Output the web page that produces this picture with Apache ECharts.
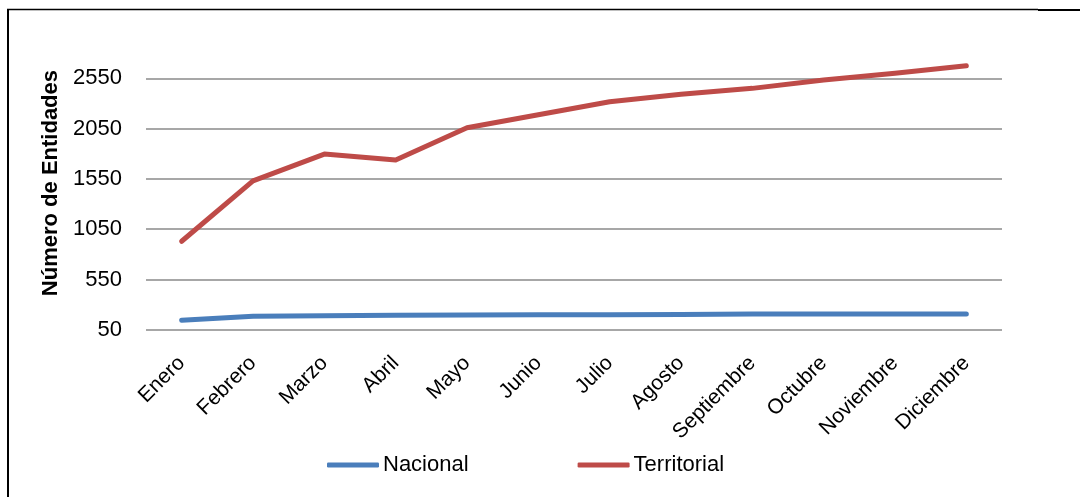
<!DOCTYPE html>
<html>
<head>
<meta charset="utf-8">
<script src="https://cdn.jsdelivr.net/npm/echarts@6/dist/echarts.min.js"></script>
<style>
html,body{margin:0;padding:0;background:#fff;}
#chart{width:1080px;height:497px;}
</style>
</head>
<body>
<div id="chart"></div>
<script>
var categories = ["Enero","Febrero","Marzo","Abril","Mayo","Junio","Julio","Agosto","Septiembre","Octubre","Noviembre","Diciembre"];
var nacional = [145, 185, 190, 195, 198, 199, 200, 203, 206, 207, 207, 207];
var territorial = [930, 1530, 1797, 1738, 2059, 2188, 2317, 2391, 2450, 2533, 2600, 2675];
var yTicks = [50, 550, 1050, 1550, 2050, 2550];

var FONT = "Liberation Sans";
var chart = echarts.init(document.getElementById('chart'), null, {renderer:'canvas'});
chart.setOption({
  animation:false,
  backgroundColor:'#ffffff',
  grid:{left:146, right:78, top:78.3, bottom:167.2, containLabel:false},
  legend:{
    data:['Nacional','Territorial'],
    left:327, top:454, padding:0,
    itemWidth:52, itemHeight:5, itemGap:109,
    icon:'roundRect',
    textStyle:{fontFamily:FONT, fontSize:22, color:'#000', padding:[0,0,0,-1]}
  },
  xAxis:{
    type:'category',
    data:categories,
    boundaryGap:true,
    axisLine:{show:false},
    axisTick:{show:false},
    axisLabel:{rotate:45, margin:30, fontFamily:FONT, fontSize:21, color:'#000', interval:0}
  },
  yAxis:{
    type:'value',
    min:yTicks[0], max:yTicks[yTicks.length-1], interval:500,
    name:'Número de Entidades',
    nameLocation:'middle',
    nameGap:65,
    nameTextStyle:{fontFamily:FONT, fontSize:22, fontWeight:'bold', color:'#000', padding:[0,0,0,42]},
    axisLine:{show:false},
    axisTick:{show:false},
    axisLabel:{margin:24, fontFamily:FONT, fontSize:22, color:'#000', formatter:function(v){return String(v);}},
    splitLine:{show:true, lineStyle:{color:'#8a8a8a', width:1.5}}
  },
  series:[
    {name:'Nacional', type:'line', data:nacional, clip:false, symbol:'none',
     lineStyle:{color:'#4A7EBB', width:5, cap:'round', join:'round'}, itemStyle:{color:'#4A7EBB'}},
    {name:'Territorial', type:'line', data:territorial, clip:false, symbol:'none',
     lineStyle:{color:'#BE4B48', width:5, cap:'round', join:'round'}, itemStyle:{color:'#BE4B48'}}
  ],
  graphic:[
    {type:'line', shape:{x1:8, y1:9.5, x2:8, y2:497}, style:{stroke:'#000', lineWidth:2}},
    {type:'line', shape:{x1:7, y1:9.5, x2:1038, y2:9.5}, style:{stroke:'#000', lineWidth:1.5}},
    {type:'line', shape:{x1:1038, y1:10, x2:1080, y2:10}, style:{stroke:'#000', lineWidth:2}}
  ]
});
</script>
</body>
</html>
